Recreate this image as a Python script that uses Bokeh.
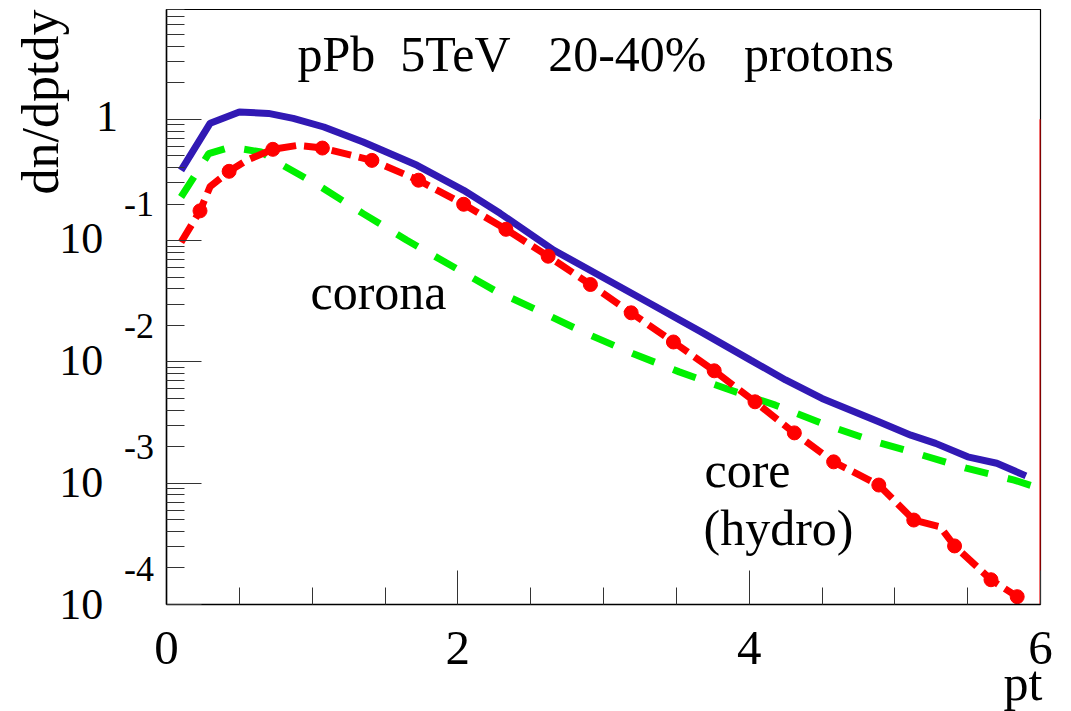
import math
from bokeh.plotting import figure
from bokeh.models import (FixedTicker, Label, ColumnDataSource, CustomJSTickFormatter,
                          CDSView, BooleanFilter, Range1d)
from bokeh.embed import file_html
from bokeh.resources import INLINE

# ---------------- data ----------------
# total (solid blue)
total_pt = [0.10, 0.30, 0.50, 0.70, 0.87, 1.08, 1.35, 1.72, 2.04, 2.29, 2.66,
            3.32, 3.67, 4.01, 4.25, 4.50, 4.89, 5.11, 5.28, 5.50, 5.70, 5.90]
total_val = [0.38, 0.93, 1.15, 1.12, 1.02, 0.865, 0.65, 0.418, 0.26, 0.168, 0.0833,
             0.0303, 0.0177, 0.01035, 0.0071, 0.0050, 0.00321, 0.00249, 0.00213,
             0.00165, 0.00146, 0.00115]

# corona (green dashed)
corona_pt = [0.10, 0.29, 0.44, 0.65, 0.76, 1.06, 1.35, 1.65, 1.95, 2.25, 2.57,
             2.88, 3.20, 3.52, 3.84, 4.18, 4.50, 4.83, 5.15, 5.49, 5.82, 5.99]
corona_val = [0.229, 0.521, 0.591, 0.538, 0.445, 0.277, 0.167, 0.1007, 0.0627,
              0.039, 0.0259, 0.0172, 0.01175, 0.00828, 0.00604, 0.00440, 0.00311,
              0.00227, 0.00176, 0.00133, 0.00106, 0.000912]

# core / hydro (red dashed with dots)
core_pt = [0.10, 0.23, 0.30, 0.43, 0.55, 0.73, 0.90, 1.07, 1.41, 1.73, 2.04, 2.33,
           2.62, 2.91, 3.19, 3.48, 3.76, 4.04, 4.31, 4.58, 4.89, 5.13, 5.31, 5.41,
           5.66, 5.84]
core_val = [0.097, 0.176, 0.28, 0.373, 0.46, 0.566, 0.61, 0.580, 0.459, 0.315,
            0.1995, 0.124, 0.0744, 0.0435, 0.0254, 0.0146, 0.00845, 0.00469,
            0.00260, 0.00150, 0.000966, 0.000497, 0.000438, 0.000304, 0.000160,
            0.000116]
core_marked = [False, True, False, True, False, True, False, True, True, True,
               True, True, True, True, True, True, True, True, True, True, True,
               True, False, True, True, True]
core_edge_pt = [6.0, 6.0]
core_edge_val = [1.0, 1e-4]

# axes
x_ticks = [0, 2, 4, 6]
x_minor = [0.5, 1, 1.5, 2.5, 3, 3.5, 4.5, 5, 5.5]
y_ticks = [1, 1e-1, 1e-2, 1e-3, 1e-4]          # top to bottom
y_minor = [m * 10.0 ** e for e in range(-4, 1) for m in range(2, 10)]
y_tick_base = ["1", "10", "10", "10", "10"]
y_tick_exp = ["", "-1", "-2", "-3", "-4"]

title_text = "pPb\u00a0\u00a05TeV\u00a0\u00a0\u00a020-40%\u00a0\u00a0\u00a0protons"
x_title = "pt"
y_title = "dn/dptdy"

# ---------------- layout ----------------
W, H = 1071, 711
FL, FR, FT, FB = 166, 1040, 9, 604
X0, X1 = 0.0, 6.0
Y0, Y1 = 1e-4, 8.05
FONT = "Liberation Serif"
FONT_HEIGHT = 1.107      # ascent + descent of the font, in em
BASE_SHIFT = 0.32        # em between Bokeh's "alphabetic" anchor and the drawn baseline

p = figure(width=W, height=H, x_range=Range1d(X0, X1), y_range=Range1d(Y0, Y1),
           y_axis_type="log", output_backend="svg", toolbar_location=None,
           min_border_left=FL, min_border_right=W - FR, min_border_top=FT,
           min_border_bottom=H - FB)
p.background_fill_color = "white"
p.border_fill_color = "white"
p.outline_line_color = "black"
p.outline_line_width = 1.2
p.xgrid.visible = False
p.ygrid.visible = False

xa = p.xaxis[0]
xa.ticker = FixedTicker(ticks=x_ticks, minor_ticks=x_minor)
xa.major_tick_in = 34
xa.major_tick_out = 0
xa.minor_tick_in = 17
xa.minor_tick_out = 0
xa.major_tick_line_color = "#333333"
xa.minor_tick_line_color = "#333333"
xa.axis_line_color = "black"
xa.axis_line_width = 1.5
xa.major_label_text_font = FONT
xa.major_label_text_font_size = "49px"
xa.major_label_text_color = "black"
xa.major_label_standoff = 27

ya = p.yaxis[0]
ya.ticker = FixedTicker(ticks=y_ticks, minor_ticks=y_minor)
ya.major_tick_in = 35
ya.major_tick_out = 0
ya.minor_tick_in = 18
ya.minor_tick_out = 0
ya.major_tick_line_color = "#333333"
ya.minor_tick_line_color = "#333333"
ya.axis_line_color = "black"
ya.axis_line_width = 1.5
ya.major_label_standoff = 0
ya.formatter = CustomJSTickFormatter(code="return ''")

# ---------------- curves ----------------
p.line(total_pt, total_val, line_color="#3119b4", line_width=7)
p.line(corona_pt, corona_val, line_color="#00f000", line_width=7, line_dash="24 20")
p.line(core_pt, core_val, line_color="#ff0000", line_width=7, line_dash="20 8")
src = ColumnDataSource(dict(pt=core_pt, val=core_val))
view = CDSView(filter=BooleanFilter(core_marked))
p.scatter("pt", "val", source=src, view=view, size=14, fill_color="#ff0000",
          line_color="#ff0000")
p.line(core_edge_pt, core_edge_val, line_color="#ff0000", line_width=2)


# ---------------- texts ----------------
def px_to_x(cx):
    return X0 + (cx - FL) * (X1 - X0) / (FR - FL)


def px_to_y(cy):
    lo, hi = math.log10(Y0), math.log10(Y1)
    return 10 ** (hi - (cy - FT) * (hi - lo) / (FB - FT))


DECADE = (FB - FT) / (math.log10(Y1) - math.log10(Y0))   # px per decade


def lab(text, cx, cy, size, align="left"):
    # (cx, cy): wanted baseline point in page pixels
    return Label(x=px_to_x(cx), y=px_to_y(cy), text=text, y_offset=BASE_SHIFT * size,
                 text_font=FONT, text_font_size=f"{size}px", text_align=align,
                 text_baseline="alphabetic", text_color="black")


# texts inside the frame
p.add_layout(lab(title_text, 297, 69, 50))
p.add_layout(lab("corona", 310, 307, 50))
p.add_layout(lab("core", 704, 485, 50))
p.add_layout(lab("(hydro)", 703, 543, 50))

# texts outside the frame: side-panel annotations (not clipped), placed in data units
p.add_layout(Label(x=px_to_x(40), y=px_to_y(9), text=y_title, angle=math.pi / 2,
                   text_font=FONT, text_font_size="52px", text_align="right",
                   text_baseline="alphabetic", text_color="black"), "left")
p.add_layout(lab(x_title, 1042, 698, 50, align="right"), "left")

base_lines = [b if not e else b + "\u2004" for b, e in zip(y_tick_base, y_tick_exp)]
p.add_layout(Label(x=px_to_x(117.5), y=y_ticks[2], text="\n".join(base_lines),
                   text_font=FONT, text_font_size="44px", text_align="right",
                   text_baseline="middle",
                   text_line_height=DECADE / (44 * FONT_HEIGHT),
                   y_offset=1, text_color="black"), "left")
exp_lines = [e for e in y_tick_exp if e]
p.add_layout(Label(x=px_to_x(153.5), y=math.sqrt(y_ticks[2] * y_ticks[3]),
                   text="\n".join(exp_lines),
                   text_font=FONT, text_font_size="36px", text_align="right",
                   text_baseline="middle",
                   text_line_height=DECADE / (36 * FONT_HEIGHT),
                   y_offset=36, text_color="black"), "right")

open("out.html", "w").write(file_html(p, INLINE))
